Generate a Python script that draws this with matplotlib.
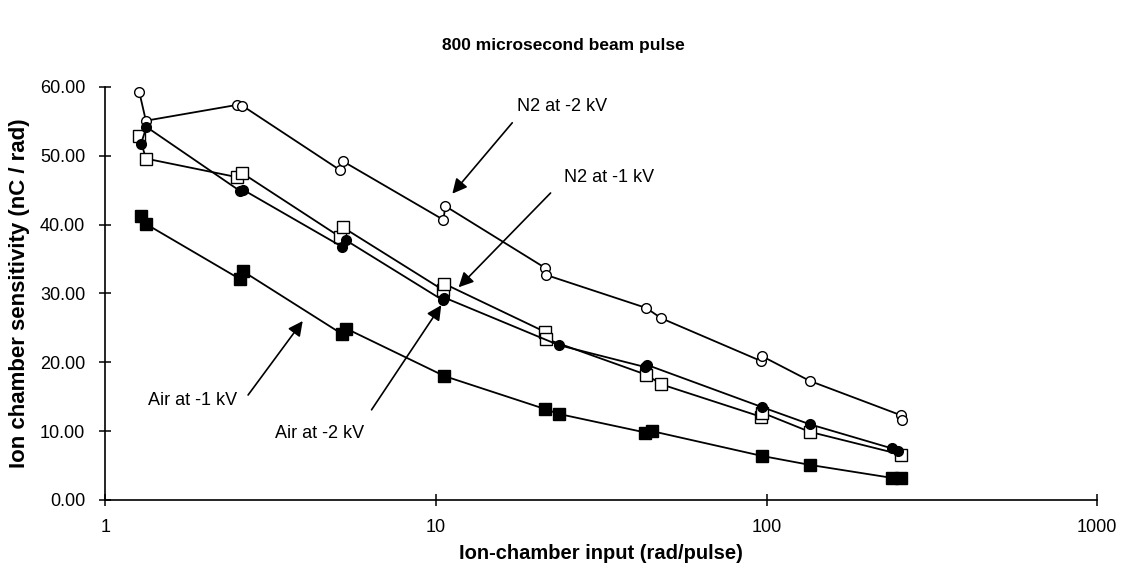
import matplotlib
matplotlib.use("Agg")
import matplotlib.pyplot as plt
from matplotlib.ticker import FixedLocator, FuncFormatter

plt.rcParams['font.family'] = ['Liberation Sans', 'DejaVu Sans']

# N2 at -2 kV (open circles)
n2_2kv_x = [1.265, 1.325, 2.50, 2.59, 5.13, 5.23, 10.53, 10.66, 21.4, 21.5, 43.2, 48.0, 96.0, 96.7, 135, 255, 256]
n2_2kv_y = [59.3, 55.1, 57.4, 57.3, 47.9, 49.2, 40.7, 42.7, 33.7, 32.7, 27.9, 26.4, 20.2, 20.9, 17.3, 12.3, 11.6]

# N2 at -1 kV (open squares)
n2_1kv_x = [1.265, 1.325, 2.50, 2.59, 5.13, 5.23, 10.5, 10.6, 21.4, 21.5, 43.2, 48.0, 96.0, 96.7, 135, 255]
n2_1kv_y = [52.9, 49.6, 46.9, 47.5, 38.2, 39.6, 30.5, 31.4, 24.4, 23.4, 18.2, 16.8, 12.1, 12.7, 9.9, 6.6]

# Air at -2 kV (filled circles)
air_2kv_x = [1.28, 1.33, 2.55, 2.60, 5.19, 5.35, 10.5, 10.6, 23.5, 43.0, 43.6, 96.7, 135, 239, 250]
air_2kv_y = [51.7, 54.2, 44.9, 45.1, 36.8, 37.7, 29.0, 29.4, 22.5, 19.3, 19.6, 13.5, 11.0, 7.5, 7.1]

# Air at -1 kV (filled squares)
air_1kv_x = [1.277, 1.325, 2.55, 2.61, 5.20, 5.35, 10.6, 21.4, 23.5, 43.0, 45.0, 96.7, 135, 240, 255]
air_1kv_y = [41.2, 40.1, 32.1, 33.2, 24.1, 24.9, 18.0, 13.2, 12.5, 9.8, 10.0, 6.4, 5.1, 3.2, 3.2]

x_ticks = [1, 10, 100, 1000]
y_ticks = [0, 10, 20, 30, 40, 50, 60]

fig = plt.figure(figsize=(11.27, 5.78), dpi=100)
ax = fig.add_axes([0.0936, 0.135, 0.88, 0.7145])

ax.plot(n2_2kv_x, n2_2kv_y, color='black', lw=1.3, marker='o', ms=7,
        mfc='white', mec='black', mew=1.0)
ax.plot(n2_1kv_x, n2_1kv_y, color='black', lw=1.3, marker='s', ms=8,
        mfc='white', mec='black', mew=1.0)
ax.plot(air_2kv_x, air_2kv_y, color='black', lw=1.3, marker='o', ms=7,
        mfc='black', mec='black')
ax.plot(air_1kv_x, air_1kv_y, color='black', lw=1.3, marker='s', ms=8,
        mfc='black', mec='black')

ax.set_xscale('log')
ax.set_xlim(1, 1000)
ax.set_ylim(0, 60)
ax.xaxis.set_major_locator(FixedLocator(x_ticks))
ax.xaxis.set_minor_locator(FixedLocator([]))
ax.xaxis.set_major_formatter(FuncFormatter(lambda v, p: '%d' % v))
ax.yaxis.set_major_locator(FixedLocator(y_ticks))
ax.yaxis.set_major_formatter(FuncFormatter(lambda v, p: '%.2f' % v))

ax.spines['top'].set_visible(False)
ax.spines['right'].set_visible(False)
ax.spines['left'].set_linewidth(1.2)
ax.spines['bottom'].set_linewidth(1.2)
ax.tick_params(axis='both', direction='inout', length=9, width=1.1, labelsize=13)
ax.tick_params(axis='y', pad=10)
ax.tick_params(axis='x', pad=9)

ax.set_ylabel('Ion chamber sensitivity (nC / rad)', fontsize=16, fontweight='bold', labelpad=7)
ax.set_xlabel('Ion-chamber input (rad/pulse)', fontsize=14.5, fontweight='bold', labelpad=6)
fig.suptitle('800 microsecond beam pulse', fontsize=12.5, fontweight='bold', y=0.935)

arrow = dict(arrowstyle='-|>', mutation_scale=22, lw=1.2, color='black',
             shrinkA=0, shrinkB=0)
ax.text(24.1, 57.1, 'N2 at -2 kV', fontsize=13, ha='center', va='center')
ax.annotate('', xy=(11.2, 44.5), xytext=(17.0, 54.8), arrowprops=arrow)
ax.text(33.4, 46.8, 'N2 at -1 kV', fontsize=13, ha='center', va='center')
ax.annotate('', xy=(11.7, 30.9), xytext=(22.2, 44.6), arrowprops=arrow)
ax.text(1.83, 14.4, 'Air at -1 kV', fontsize=13, ha='center', va='center')
ax.annotate('', xy=(3.95, 26.0), xytext=(2.70, 15.25), arrowprops=arrow)
ax.text(4.45, 9.7, 'Air at -2 kV', fontsize=13, ha='center', va='center')
ax.annotate('', xy=(10.37, 28.3), xytext=(6.38, 13.1), arrowprops=arrow)

fig.savefig('out.png', dpi=100)
